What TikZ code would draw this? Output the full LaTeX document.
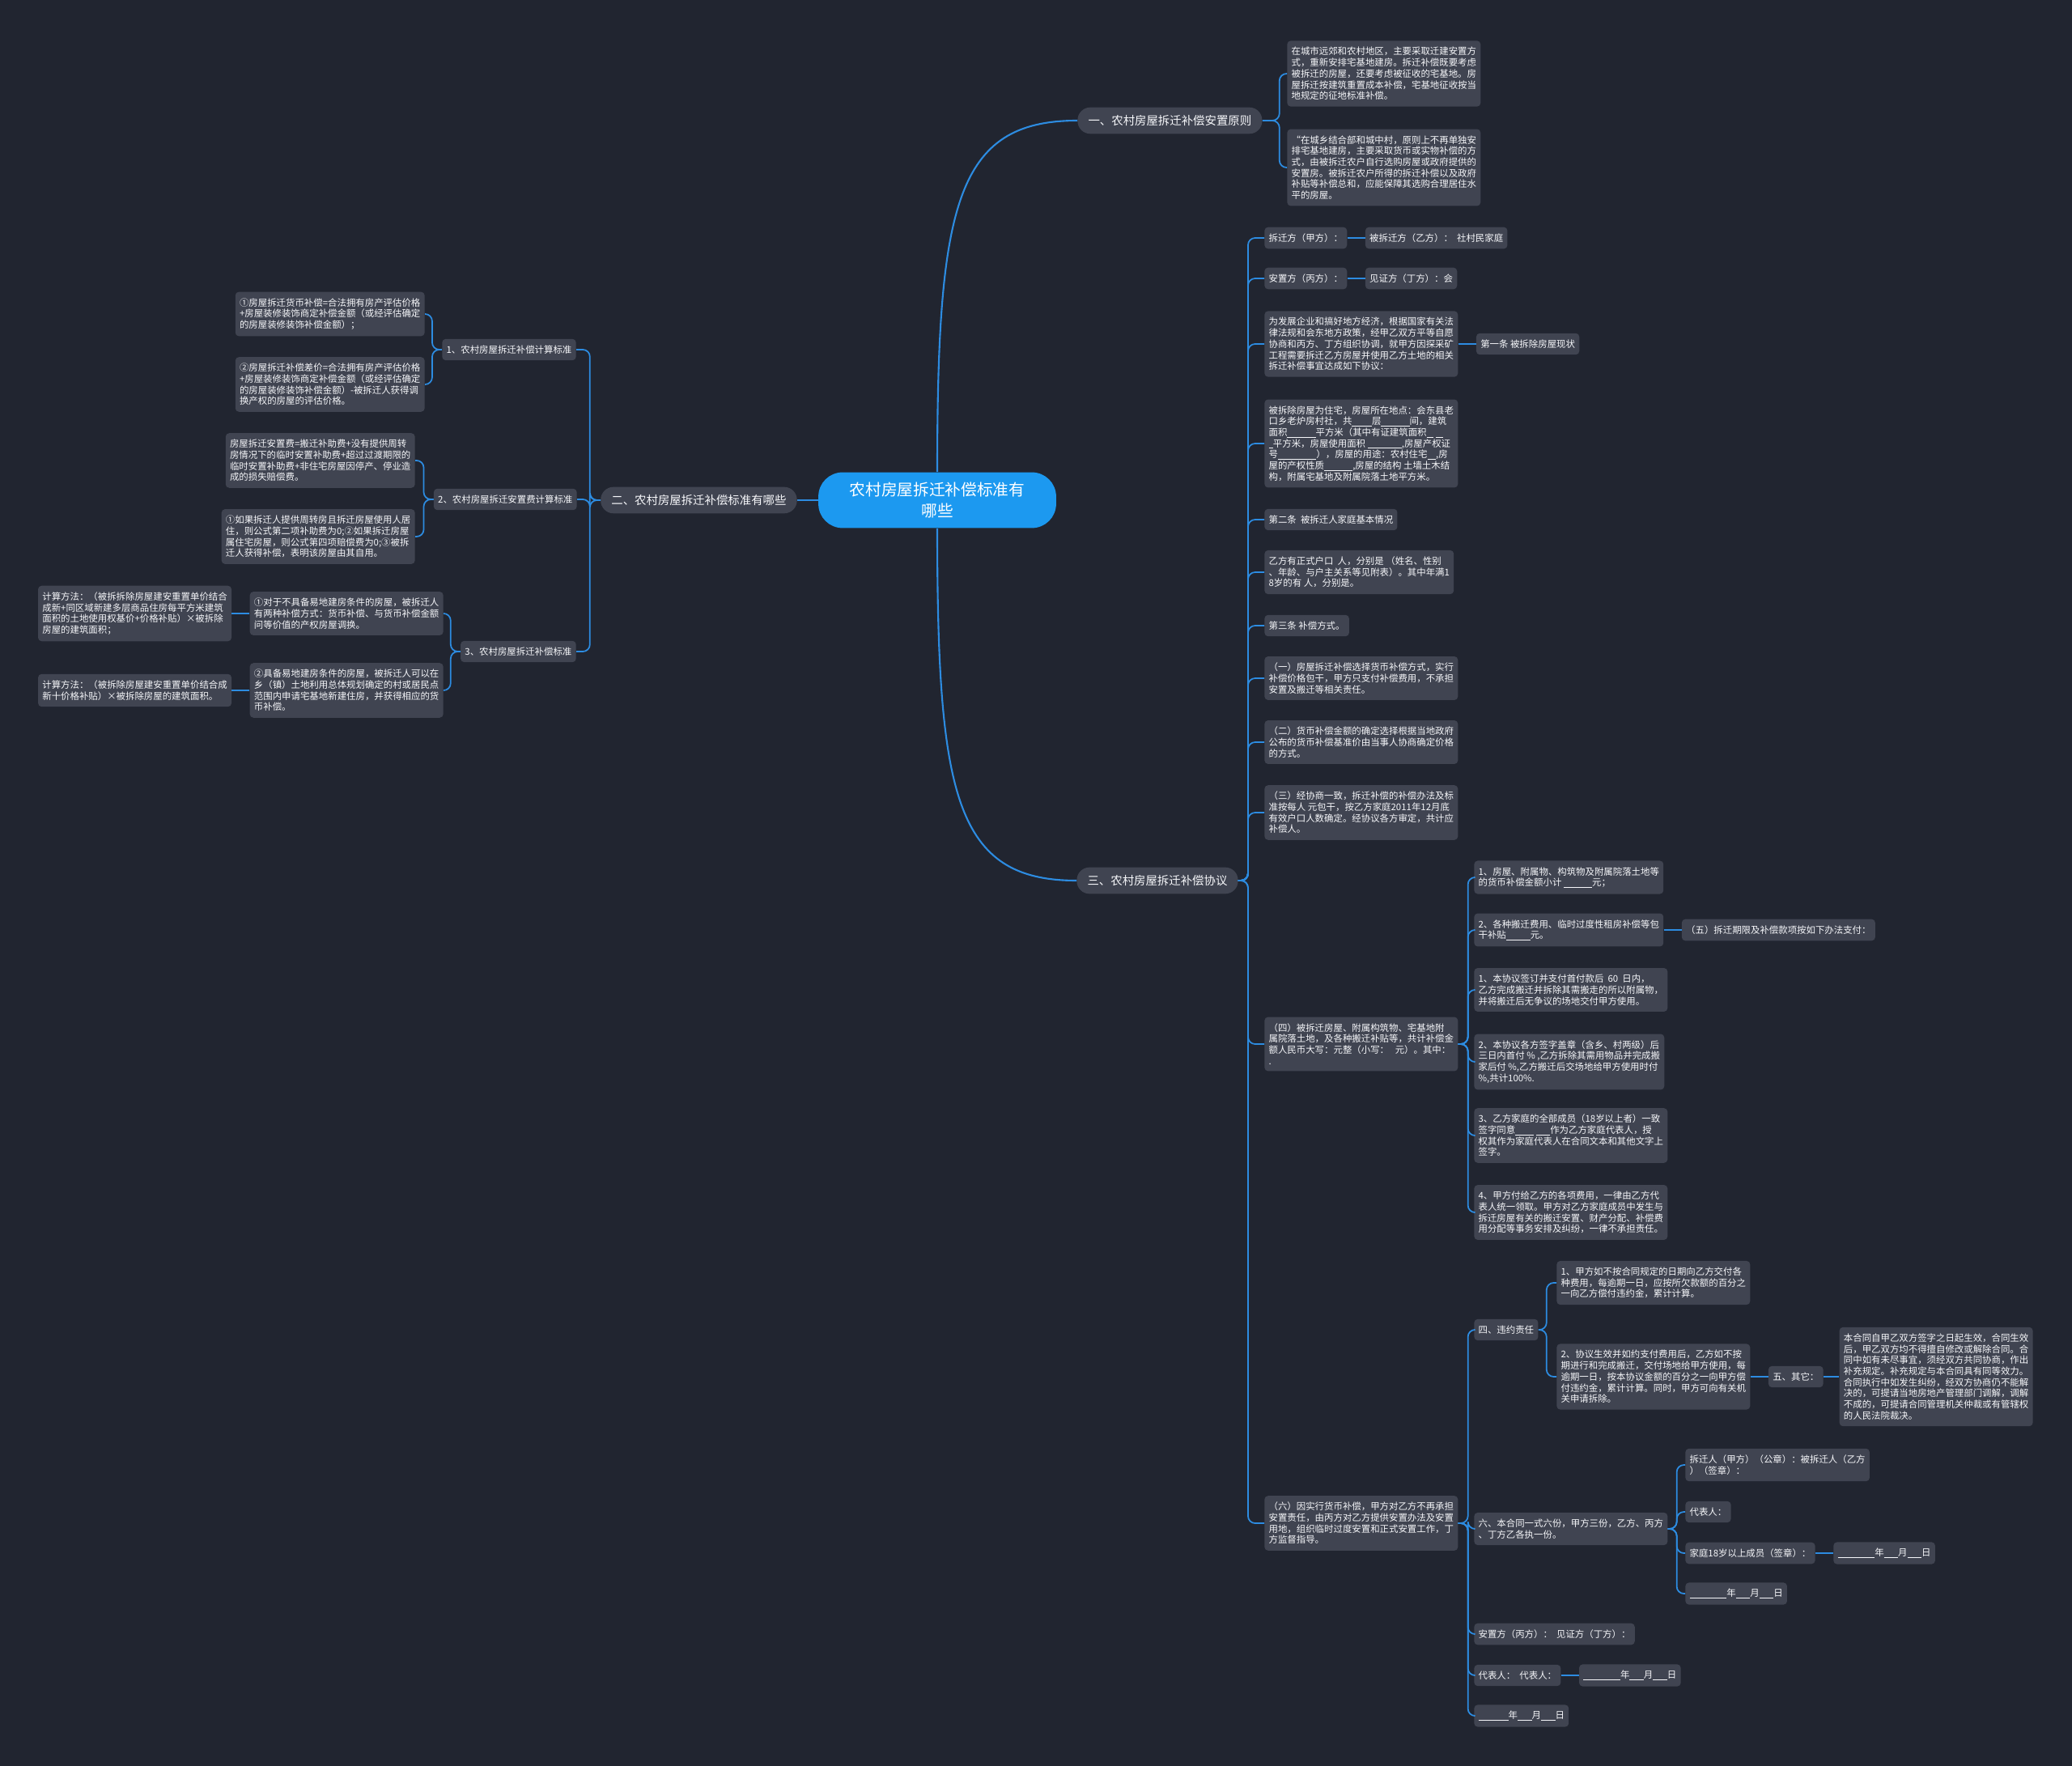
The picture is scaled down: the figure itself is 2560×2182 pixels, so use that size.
\documentclass[tikz,border=0pt]{standalone}
\usepackage{fontspec}
\setmainfont{Noto Sans CJK SC}
\usetikzlibrary{positioning}
\definecolor{bgc}{RGB}{33,37,48}
\definecolor{boxc}{RGB}{64,68,81}
\definecolor{rootc}{RGB}{28,153,240}
\definecolor{linec}{RGB}{45,140,225}
\definecolor{txtc}{RGB}{246,247,250}
\newcommand\fillin[1]{\rule[-1pt]{#1}{0.45pt}}
\tikzset{
  root/.style ={rectangle, rounded corners=17pt, fill=rootc, text=white, align=center, inner xsep=22pt, inner ysep=7pt, font=\fontsize{11.2pt}{14.8pt}\selectfont},
  br/.style   ={rectangle, rounded corners=9pt, fill=boxc, text=txtc, inner xsep=7.5pt, inner ysep=5.5pt, font=\fontsize{8.2pt}{10pt}\selectfont},
  leaf/.style ={rectangle, rounded corners=2.5pt, fill=boxc, text=txtc, align=left, inner xsep=3pt, inner ysep=4.5pt, font=\fontsize{6.5pt}{7.8pt}\selectfont},
  fl/.style   ={draw=linec, line width=1pt, rounded corners=5pt},
  fl2/.style  ={draw=linec, line width=1.2pt},
}

\begin{document}
\begin{tikzpicture}[x=0.02cm, y=-0.02cm, node distance=12.5pt]
  \path[use as bounding box, fill=bgc] (0,0) rectangle (2560,2182);
  \node[root] (root) at (1158,618) {农村房屋拆迁补偿标准有\\哪些};
  \node[br, anchor=west] (br1) at (1331,149) {一、农村房屋拆迁补偿安置原则};
  \node[br, anchor=east] (br2) at (985,618) {二、农村房屋拆迁补偿标准有哪些};
  \node[br, anchor=west] (br3) at (1330,1088) {三、农村房屋拆迁补偿协议};
  \draw[fl2] (root.north) .. controls +(0,-330) and +(-150,0) .. (br1.west);
  \draw[fl2] (root.south) .. controls +(0,330) and +(-150,0) .. (br3.west);
  \draw[fl2] (root.west) -- (br2.east);

  \node[leaf, anchor=west] (a1) at (1590,91) {在城市远郊和农村地区，主要采取迁建安置方\\式，重新安排宅基地建房。拆迁补偿既要考虑\\被拆迁的房屋，还要考虑被征收的宅基地。房\\屋拆迁按建筑重置成本补偿，宅基地征收按当\\地规定的征地标准补偿。};
  \node[leaf, anchor=west] (a2) at (1590,207) {“在城乡结合部和城中村，原则上不再单独安\\排宅基地建房，主要采取货币或实物补偿的方\\式，由被拆迁农户自行选购房屋或政府提供的\\安置房。被拆迁农户所得的拆迁补偿以及政府\\补贴等补偿总和，应能保障其选购合理居住水\\平的房屋。};
  \draw[fl] (br1.east) -- ++(21,0) |- (a1.west);
  \draw[fl] (br1.east) -- ++(21,0) |- (a2.west);

  \node[leaf, anchor=east] (b1) at (712,432) {1、农村房屋拆迁补偿计算标准};
  \node[leaf, anchor=east] (b2) at (713,617) {2、农村房屋拆迁安置费计算标准};
  \node[leaf, anchor=east] (b3) at (712,805) {3、农村房屋拆迁补偿标准};
  \draw[fl] (br2.west) -- ++(-13,0) |- (b1.east);
  \draw[fl] (br2.west) -- ++(-13,0) |- (b2.east);
  \draw[fl] (br2.west) -- ++(-13,0) |- (b3.east);
  \node[leaf, anchor=east] (g1) at (525,388) {①房屋拆迁货币补偿=合法拥有房产评估价格\\+房屋装修装饰商定补偿金额（或经评估确定\\的房屋装修装饰补偿金额）；};
  \node[leaf, anchor=east] (g2) at (525,475) {②房屋拆迁补偿差价=合法拥有房产评估价格\\+房屋装修装饰商定补偿金额（或经评估确定\\的房屋装修装饰补偿金额）-被拆迁人获得调\\换产权的房屋的评估价格。};
  \draw[fl] (b1.west) -- ++(-12,0) |- (g1.east);
  \draw[fl] (b1.west) -- ++(-12,0) |- (g2.east);
  \node[leaf, anchor=east] (g3) at (513,569) {房屋拆迁安置费=搬迁补助费+没有提供周转\\房情况下的临时安置补助费+超过过渡期限的\\临时安置补助费+非住宅房屋因停产、停业造\\成的损失赔偿费。};
  \node[leaf, anchor=east] (g4) at (513,663) {①如果拆迁人提供周转房且拆迁房屋使用人居\\住，则公式第二项补助费为0;②如果拆迁房屋\\属住宅房屋，则公式第四项赔偿费为0;③被拆\\迁人获得补偿，表明该房屋由其自用。};
  \draw[fl] (b2.west) -- ++(-12,0) |- (g3.east);
  \draw[fl] (b2.west) -- ++(-12,0) |- (g4.east);
  \node[leaf, anchor=east] (g5) at (548,758) {①对于不具备易地建房条件的房屋，被拆迁人\\有两种补偿方式：货币补偿、与货币补偿金额\\问等价值的产权房屋调换。};
  \node[leaf, anchor=east] (g6) at (548,853) {②具备易地建房条件的房屋，被拆迁人可以在\\乡（镇）土地利用总体规划确定的村或居民点\\范围内申请宅基地新建住房，并获得相应的货\\币补偿。};
  \draw[fl] (b3.west) -- ++(-12,0) |- (g5.east);
  \draw[fl] (b3.west) -- ++(-12,0) |- (g6.east);
  \node[leaf, left=of g5] (h1) {计算方法：（被拆拆除房屋建安重置单价结合\\成新+同区域新建多层商品住房每平方米建筑\\面积的土地使用权基价+价格补贴）×被拆除\\房屋的建筑面积；};
  \node[leaf, left=of g6] (h2) {计算方法：（被拆除房屋建安重置单价结合成\\新十价格补贴）×被拆除房屋的建筑面积。};
  \draw[fl] (g5) -- (h1);
  \draw[fl] (g6) -- (h2);

  \node[leaf, anchor=west] (c1) at (1562,294) {拆迁方（甲方）：};
  \node[leaf, right=of c1] (c1a) {被拆迁方（乙方）：\ \ 社村民家庭};
  \node[leaf, anchor=west] (c2) at (1562,344) {安置方（丙方）：};
  \node[leaf, right=of c2] (c2a) {见证方（丁方）：会};
  \node[leaf, anchor=west] (c3) at (1562,425) {为发展企业和搞好地方经济，根据国家有关法\\律法规和会东地方政策，经甲乙双方平等自愿\\协商和丙方、丁方组织协调，就甲方因探采矿\\工程需要拆迁乙方房屋并使用乙方土地的相关\\拆迁补偿事宜达成如下协议：};
  \node[leaf, right=of c3] (c3a) {第一条 被拆除房屋现状};
  \node[leaf, anchor=west] (c4) at (1562,548) {被拆除房屋为住宅，房屋所在地点：会东县老\\口乡老炉房村社，共\fillin{14pt}层\fillin{20pt}间，建筑\\面积\fillin{20pt}平方米（其中有证建筑面积\fillin{5pt}\ \fillin{5pt}\\\fillin{3pt}平方米，房屋使用面积 \fillin{24pt},房屋产权证\\号\fillin{27pt}），房屋的用途：农村住宅\fillin{6pt},房\\屋的产权性质\fillin{20pt},房屋的结构 土墙土木结\\构，附属宅基地及附属院落土地平方米。};
  \node[leaf, anchor=west] (c5) at (1562,642) {第二条\ \ 被拆迁人家庭基本情况};
  \node[leaf, anchor=west] (c6) at (1562,707) {乙方有正式户口\ \ 人，分别是 （姓名、性别\\、年龄、与户主关系等见附表）。其中年满1\\8岁的有 人，分别是。};
  \node[leaf, anchor=west] (c7) at (1562,773) {第三条 补偿方式。};
  \node[leaf, anchor=west] (c8) at (1562,838) {（一）房屋拆迁补偿选择货币补偿方式，实行\\补偿价格包干，甲方只支付补偿费用，不承担\\安置及搬迁等相关责任。};
  \node[leaf, anchor=west] (c9) at (1562,917) {（二）货币补偿金额的确定选择根据当地政府\\公布的货币补偿基准价由当事人协商确定价格\\的方式。};
  \node[leaf, anchor=west] (c10) at (1562,1004) {（三）经协商一致，拆迁补偿的补偿办法及标\\准按每人 元包干，按乙方家庭2011年12月底\\有效户口人数确定。经协议各方审定，共计应\\补偿人。};
  \node[leaf, anchor=west] (c11) at (1562,1290) {（四）被拆迁房屋、附属构筑物、宅基地附\\属院落土地，及各种搬迁补贴等，共计补偿金\\额人民币大写：元整（小写：\ \ \ 元）。其中：\\.};
  \node[leaf, anchor=west] (c12) at (1562,1882) {（六）因实行货币补偿，甲方对乙方不再承担\\安置责任，由丙方对乙方提供安置办法及安置\\用地，组织临时过度安置和正式安置工作，丁\\方监督指导。};
  \draw[fl] (br3.east) -- ++(12,0) |- (c1.west);
  \draw[fl] (br3.east) -- ++(12,0) |- (c2.west);
  \draw[fl] (br3.east) -- ++(12,0) |- (c3.west);
  \draw[fl] (br3.east) -- ++(12,0) |- (c4.west);
  \draw[fl] (br3.east) -- ++(12,0) |- (c5.west);
  \draw[fl] (br3.east) -- ++(12,0) |- (c6.west);
  \draw[fl] (br3.east) -- ++(12,0) |- (c7.west);
  \draw[fl] (br3.east) -- ++(12,0) |- (c8.west);
  \draw[fl] (br3.east) -- ++(12,0) |- (c9.west);
  \draw[fl] (br3.east) -- ++(12,0) |- (c10.west);
  \draw[fl] (br3.east) -- ++(12,0) |- (c11.west);
  \draw[fl] (br3.east) -- ++(12,0) |- (c12.west);
  \draw[fl] (c1) -- (c1a);
  \draw[fl] (c2) -- (c2a);
  \draw[fl] (c3) -- (c3a);

  \node[leaf, anchor=west] (d1) at (1821,1084) {1、房屋、附属物、构筑物及附属院落土地等\\的货币补偿金额小计 \fillin{20pt}元；};
  \node[leaf, anchor=west] (d2) at (1821,1149) {2、各种搬迁费用、临时过度性租房补偿等包\\干补贴\fillin{17pt}元。};
  \node[leaf, right=of d2] (d2a) {（五）拆迁期限及补偿款项按如下办法支付：};
  \node[leaf, anchor=west] (d3) at (1821,1223) {1、本协议签订并支付首付款后\ \ 60\ \ 日内，\\乙方完成搬迁并拆除其需搬走的所以附属物，\\并将搬迁后无争议的场地交付甲方使用。};
  \node[leaf, anchor=west] (d4) at (1821,1312) {2、本协议各方签字盖章（含乡、村两级）后\\三日内首付 \% ,乙方拆除其需用物品并完成搬\\家后付 \%,乙方搬迁后交场地给甲方使用时付\\\%,共计100\%.};
  \node[leaf, anchor=west] (d5) at (1821,1403) {3、乙方家庭的全部成员（18岁以上者）一致\\签字同意\fillin{13pt}\ \fillin{10pt}作为乙方家庭代表人，授\\权其作为家庭代表人在合同文本和其他文字上\\签字。};
  \node[leaf, anchor=west] (d6) at (1821,1498) {4、甲方付给乙方的各项费用，一律由乙方代\\表人统一领取。甲方对乙方家庭成员中发生与\\拆迁房屋有关的搬迁安置、财产分配、补偿费\\用分配等事务安排及纠纷，一律不承担责任。};
  \draw[fl] (c11.east) -- ++(12,0) |- (d1.west);
  \draw[fl] (c11.east) -- ++(12,0) |- (d2.west);
  \draw[fl] (c11.east) -- ++(12,0) |- (d3.west);
  \draw[fl] (c11.east) -- ++(12,0) |- (d4.west);
  \draw[fl] (c11.east) -- ++(12,0) |- (d5.west);
  \draw[fl] (c11.east) -- ++(12,0) |- (d6.west);
  \draw[fl] (d2) -- (d2a);

  \node[leaf, anchor=west] (e0) at (1821,1643) {四、违约责任};
  \node[leaf, anchor=west] (e1) at (1923,1585) {1、甲方如不按合同规定的日期向乙方交付各\\种费用，每逾期一日，应按所欠款额的百分之\\一向乙方偿付违约金，累计计算。};
  \node[leaf, anchor=west] (e2) at (1923,1701) {2、协议生效并如约支付费用后，乙方如不按\\期进行和完成搬迁，交付场地给甲方使用，每\\逾期一日，按本协议金额的百分之一向甲方偿\\付违约金，累计计算。同时，甲方可向有关机\\关申请拆除。};
  \node[leaf, right=of e2] (e2a) {五、其它：};
  \node[leaf, right=11pt of e2a] (e2b) {本合同自甲乙双方签字之日起生效，合同生效\\后，甲乙双方均不得擅自修改或解除合同。合\\同中如有未尽事宜，须经双方共同协商，作出\\补充规定。补充规定与本合同具有同等效力。\\合同执行中如发生纠纷，经双方协商仍不能解\\决的，可提请当地房地产管理部门调解，调解\\不成的，可提请合同管理机关仲裁或有管辖权\\的人民法院裁决。};
  \draw[fl] (e0.east) -- ++(10,0) |- (e1.west);
  \draw[fl] (e0.east) -- ++(10,0) |- (e2.west);
  \draw[fl] (e2) -- (e2a);
  \draw[fl] (e2a) -- (e2b);

  \node[leaf, anchor=west] (f1) at (1821,1889) {六、本合同一式六份，甲方三份，乙方、丙方\\、丁方乙各执一份。};
  \node[leaf, anchor=west] (f1a) at (2082,1810) {拆迁人（甲方）（公章）：被拆迁人（乙方\\）（签章）：};
  \node[leaf, anchor=west] (f1b) at (2082,1868) {代表人：};
  \node[leaf, anchor=west] (f1c) at (2082,1919) {家庭18岁以上成员（签章）：};
  \node[leaf, right=of f1c] (f1c1) {\fillin{26pt}年\fillin{10pt}月\fillin{10pt}日};
  \node[leaf, anchor=west] (f1d) at (2082,1969) {\fillin{26pt}年\fillin{10pt}月\fillin{10pt}日};
  \node[leaf, anchor=west] (f2) at (1821,2019) {安置方（丙方）：\ \ 见证方（丁方）：};
  \node[leaf, anchor=west] (f3) at (1821,2070) {代表人：\ \ 代表人：};
  \node[leaf, right=of f3] (f3a) {\fillin{26pt}年\fillin{10pt}月\fillin{10pt}日};
  \node[leaf, anchor=west] (f4) at (1821,2120) {\fillin{21pt}年\fillin{10pt}月\fillin{10pt}日};
  \draw[fl] (c12.east) -- ++(12,0) |- (e0.west);
  \draw[fl] (c12.east) -- ++(12,0) |- (f1.west);
  \draw[fl] (c12.east) -- ++(12,0) |- (f2.west);
  \draw[fl] (c12.east) -- ++(12,0) |- (f3.west);
  \draw[fl] (c12.east) -- ++(12,0) |- (f4.west);
  \draw[fl] (f1.east) -- ++(11,0) |- (f1a.west);
  \draw[fl] (f1.east) -- ++(11,0) |- (f1b.west);
  \draw[fl] (f1.east) -- ++(11,0) |- (f1c.west);
  \draw[fl] (f1.east) -- ++(11,0) |- (f1d.west);
  \draw[fl] (f1c) -- (f1c1);
  \draw[fl] (f3) -- (f3a);
\end{tikzpicture}
\end{document}
